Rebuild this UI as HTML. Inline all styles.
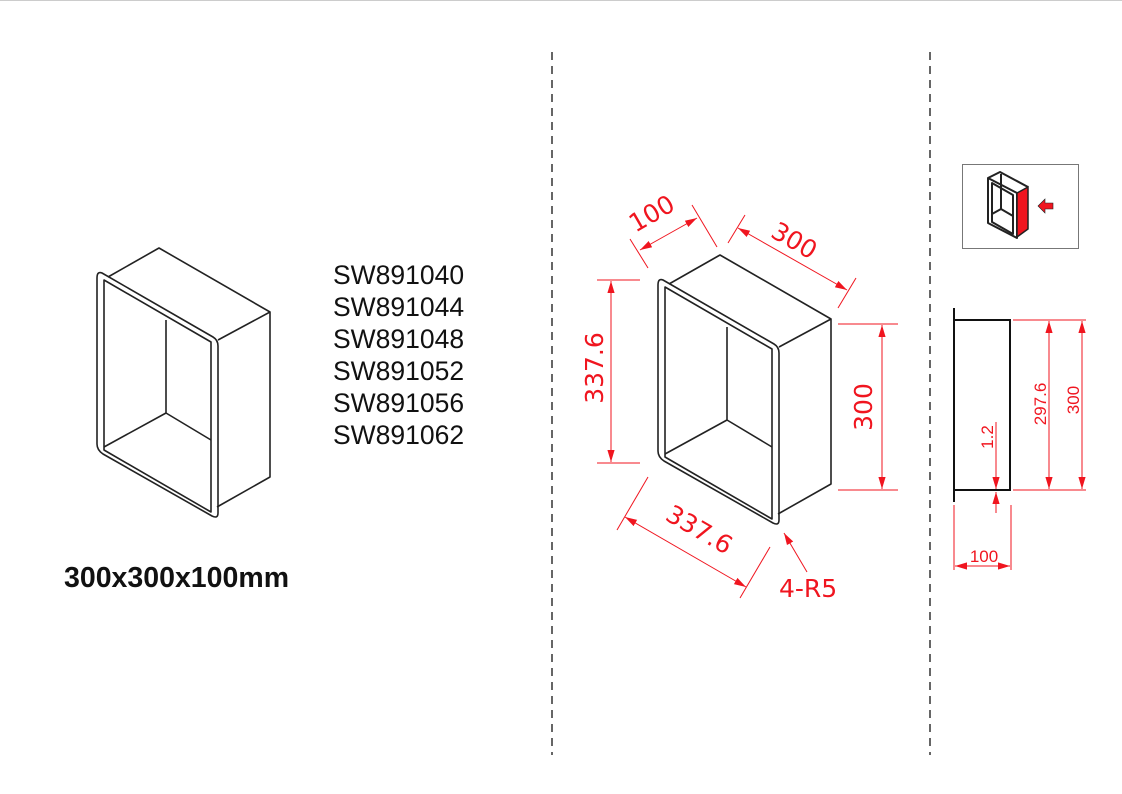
<!DOCTYPE html>
<html><head><meta charset="utf-8"><style>
html,body{margin:0;padding:0;background:#fff;}
svg{display:block;}
.r{fill:#f0151f;font-family:"DejaVu Sans","Liberation Sans",sans-serif;}
</style></head><body>
<svg width="1122" height="794" viewBox="0 0 1122 794" xmlns="http://www.w3.org/2000/svg">
<defs>
<marker id="a" viewBox="0 0 10 10" refX="10" refY="5" markerWidth="12" markerHeight="12" markerUnits="userSpaceOnUse" orient="auto-start-reverse"><path d="M0,2 L10,5 L0,8 z" fill="#f0151f"/></marker>
<g id="box" fill="none" stroke="#222" stroke-width="1.6" stroke-linejoin="round">
<path d="M102,273 L213,337 Q218,340 218,346 L218,513 Q218,519 212,516 L103,454 Q97,450 97,444 L97,278 Q97,271 102,273 Z"/>
<path d="M104,280 L211,342 L211,512 L104,450 Z"/>
<path d="M108,277 L159,248 L270,312 L270,477 L217,507"/>
<path d="M218,340 L270,312"/>
<path d="M166,320 L166,413 M104,447 L166,413 L211,440"/>
</g>
</defs>
<line x1="0" y1="0.5" x2="1122" y2="0.5" stroke="#ccc"/>
<use href="#box"/>
<use href="#box" transform="translate(561,7)"/>
<g font-family="Liberation Sans, sans-serif" font-size="26.5" fill="#111">
<text x="333" y="284">SW891040</text>
<text x="333" y="316">SW891044</text>
<text x="333" y="348">SW891048</text>
<text x="333" y="380">SW891052</text>
<text x="333" y="412">SW891056</text>
<text x="333" y="444">SW891062</text>
<text x="64" y="587" font-weight="bold" font-size="28.5">300x300x100mm</text>
</g>
<g stroke="#333" stroke-width="1.5" stroke-dasharray="8,6">
<line x1="552" y1="52" x2="552" y2="755"/><line x1="930" y1="52" x2="930" y2="755"/>
</g>
<g stroke="#f0151f" stroke-width="1" fill="none">
<line x1="597" y1="280" x2="640" y2="280"/><line x1="597" y1="463" x2="640" y2="463"/>
<line x1="611" y1="281" x2="611" y2="462" marker-start="url(#a)" marker-end="url(#a)"/>
<line x1="838" y1="324" x2="898" y2="324"/><line x1="838" y1="490" x2="898" y2="490"/>
<line x1="882" y1="325" x2="882" y2="489" marker-start="url(#a)" marker-end="url(#a)"/>
<line x1="630" y1="239" x2="648" y2="268"/><line x1="692" y1="205" x2="717" y2="247"/>
<line x1="640" y1="250" x2="697" y2="218" marker-start="url(#a)" marker-end="url(#a)"/>
<line x1="728" y1="243" x2="745" y2="215"/><line x1="838" y1="308" x2="856" y2="278"/>
<line x1="738" y1="228" x2="847" y2="290" marker-start="url(#a)" marker-end="url(#a)"/>
<line x1="617" y1="530" x2="648" y2="477"/><line x1="740" y1="598" x2="770" y2="547"/>
<line x1="625" y1="517" x2="746" y2="587" marker-start="url(#a)" marker-end="url(#a)"/>
<line x1="807" y1="572" x2="784" y2="533" marker-end="url(#a)"/>
</g>
<g class="r" font-size="25">
<text transform="translate(603,368) rotate(-90)" text-anchor="middle">337.6</text>
<text transform="translate(872,407) rotate(-90)" text-anchor="middle">300</text>
<text transform="translate(656,221) rotate(-30)" text-anchor="middle">100</text>
<text transform="translate(790,248) rotate(30)" text-anchor="middle">300</text>
<text transform="translate(695,537) rotate(30)" text-anchor="middle">337.6</text>
<text x="779" y="597">4-R5</text>
</g>
<rect x="962.5" y="164.5" width="116" height="84" fill="none" stroke="#777"/>
<g stroke="#222" stroke-width="2" fill="none" stroke-linejoin="round">
<path d="M988,178 L1017,193 L1017,238 L988,223 Z"/>
<path d="M992,183 L1013,195 L1013,234 L992,222 Z"/>
<path d="M988,178 L1000,172 L1028,187"/>
<path d="M1001,174 L1001,209 L992,214 M1001,209 L1013,216"/>
</g>
<path d="M1017,193 L1028,187 L1028,229 L1017,237 Z" fill="#f0151f" stroke="#222" stroke-width="1.5"/>
<path d="M1038,206 L1045,199 L1045,203 L1053,203 L1053,209 L1045,209 L1045,213 Z" fill="#f0151f" stroke="#222" stroke-width="0.6"/>
<g stroke="#111" stroke-width="2" fill="none">
<line x1="954" y1="308" x2="954" y2="502"/>
<rect x="954" y="320" width="56" height="170"/>
</g>
<g stroke="#f0151f" stroke-width="1" fill="none">
<line x1="1013" y1="320" x2="1086" y2="320"/><line x1="1013" y1="490" x2="1086" y2="490"/>
<line x1="1049" y1="321" x2="1049" y2="489" marker-start="url(#a)" marker-end="url(#a)"/>
<line x1="1082" y1="321" x2="1082" y2="489" marker-start="url(#a)" marker-end="url(#a)"/>
<line x1="996" y1="422" x2="996" y2="489" marker-end="url(#a)"/>
<line x1="996" y1="513" x2="996" y2="492" marker-end="url(#a)"/>
<line x1="954" y1="505" x2="954" y2="570"/><line x1="1011" y1="505" x2="1011" y2="570"/>
<line x1="955" y1="566" x2="1010" y2="566" marker-start="url(#a)" marker-end="url(#a)"/>
</g>
<g class="r" font-size="17" style="font-family:'Liberation Sans',sans-serif">
<text transform="translate(1046,404) rotate(-90)" text-anchor="middle">297.6</text>
<text transform="translate(1079,400) rotate(-90)" text-anchor="middle">300</text>
<text transform="translate(993,437) rotate(-90)" text-anchor="middle">1.2</text>
<text x="984" y="562" text-anchor="middle">100</text>
</g>
</svg>
</body></html>
